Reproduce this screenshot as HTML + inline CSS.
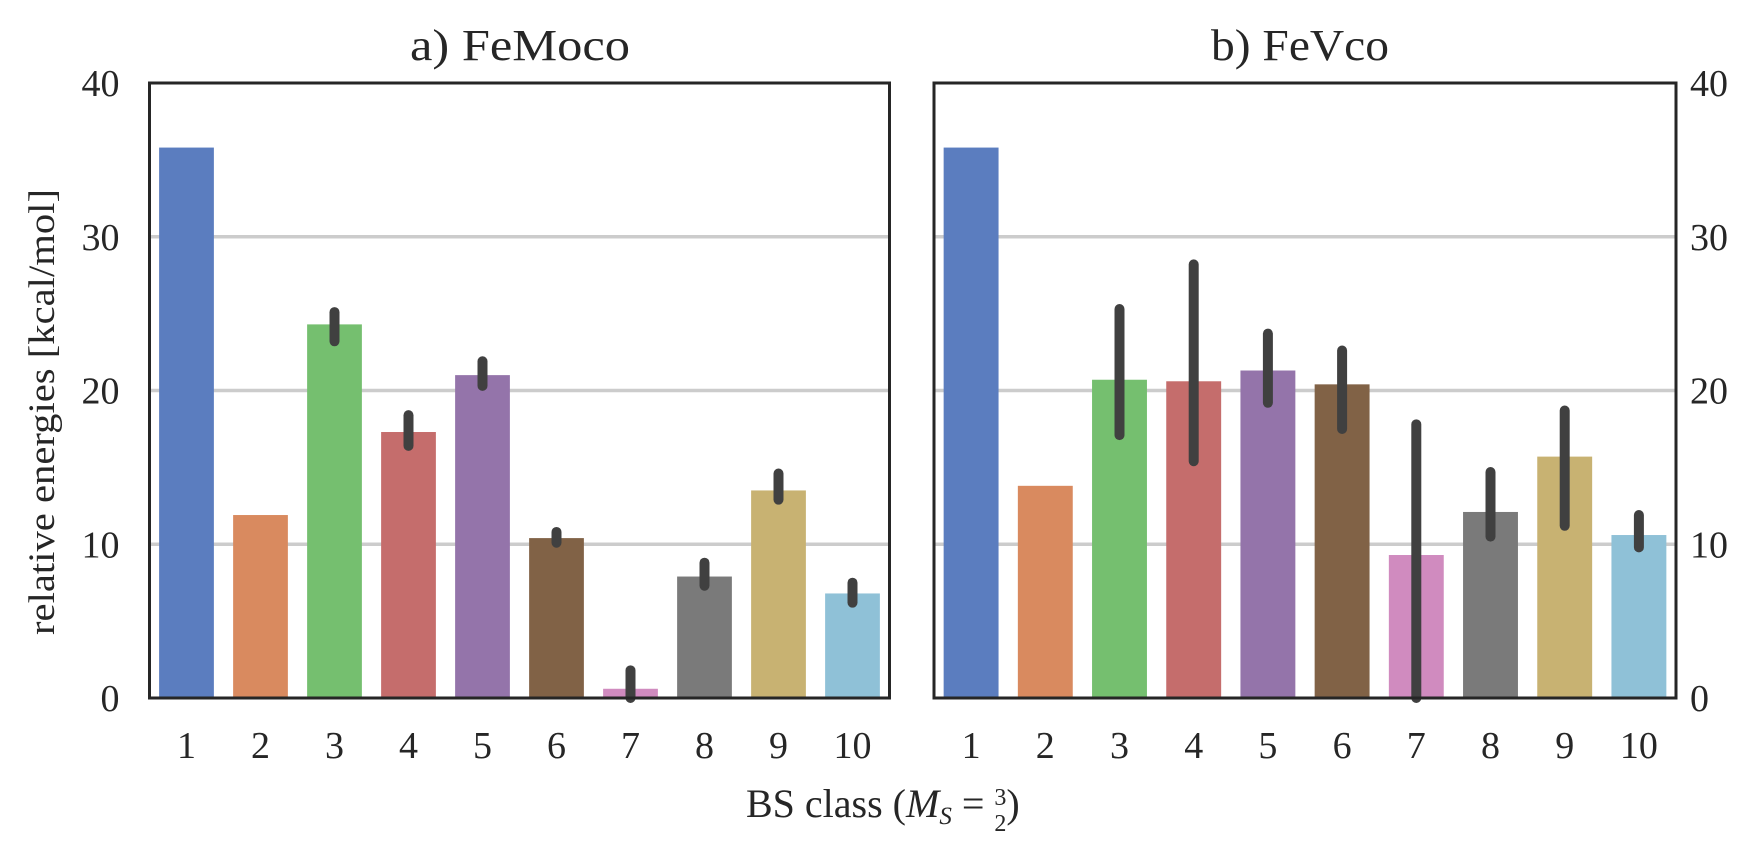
<!DOCTYPE html>
<html><head><meta charset="utf-8">
<style>
html,body{margin:0;padding:0;background:#fff;}
svg text{font-family:"Liberation Serif","DejaVu Serif",serif;fill:#262626;}
</style></head>
<body>
<svg id="chart" width="1748" height="852" viewBox="0 0 1748 852" xmlns="http://www.w3.org/2000/svg">
<text x="410" y="60" font-size="44" textLength="220" lengthAdjust="spacingAndGlyphs">a) FeMoco</text>
<text x="1211" y="60" font-size="44" textLength="178" lengthAdjust="spacingAndGlyphs">b) FeVco</text>
<text transform="translate(54,412) rotate(-90)" font-size="37" text-anchor="middle" textLength="446" lengthAdjust="spacingAndGlyphs">relative energies [kcal/mol]</text>
<text x="746" y="817" font-size="40">BS class (<tspan font-style="italic">M</tspan><tspan font-style="italic" font-size="25" dy="7">S</tspan><tspan dy="-7"> = </tspan><tspan font-size="24" dy="-12">3</tspan><tspan font-size="24" dx="-12" dy="26">2</tspan><tspan dy="-14">)</tspan></text>
<g id="panels"></g>
</svg>
<script>
const categories = ["1","2","3","4","5","6","7","8","9","10"];
const yTicks = [0,10,20,30,40];
const femocoValues = [35.8,11.9,24.3,17.3,21.0,10.4,0.6,7.9,13.5,6.8];
const femocoLow = [35.8,11.9,23.2,16.4,20.3,10.1,0,7.3,12.9,6.2];
const femocoHigh = [35.8,11.9,25.1,18.4,21.9,10.8,1.8,8.8,14.6,7.5];
const fevcoValues = [35.8,13.8,20.7,20.6,21.3,20.4,9.3,12.1,15.7,10.6];
const fevcoLow = [35.8,13.8,17.1,15.4,19.2,17.5,0,10.5,11.2,9.8];
const fevcoHigh = [35.8,13.8,25.3,28.2,23.7,22.6,17.8,14.7,18.7,11.9];
const colors = ["#5b7dbf","#d98a5f","#75bf6f","#c56d6c","#9474aa","#816246","#d08bbf","#7a7a7a","#c8b272","#8fc1d7"];

const NS = "http://www.w3.org/2000/svg";
const root = document.getElementById('panels');
function mk(tag, attrs, parent){
  const e = document.createElementNS(NS, tag);
  for (const k in attrs) e.setAttribute(k, attrs[k]);
  parent.appendChild(e);
  return e;
}
const top0 = 83, bot0 = 698, yMax = 40;
function yScale(v){ return bot0 - (v / yMax) * (bot0 - top0); }

function panel(name, x0, x1, vals, lo, hi, tickSide){
  const g = mk('g', {}, root);
  
  
  const n = categories.length, cw = (x1 - x0) / n;
  const xScale = i => x0 + cw * (i + 0.5);
  yTicks.forEach(t => {
    if (t > 0 && t < yMax) {
      const gl = mk('line', {x1: x0, x2: x1, y1: yScale(t), y2: yScale(t), stroke: '#cccccc', 'stroke-width': 3.5}, g);
      
      
    }
    const tx = tickSide === 'left' ? x0 - 30 : x1 + 14;
    const tl = mk('text', {x: tx, y: yScale(t) + 13, 'font-size': 38, 'text-anchor': tickSide === 'left' ? 'end' : 'start'}, g);
    tl.textContent = t;
    
    
  });
  const bw = cw * 0.74;
  vals.forEach((v, i) => {
    const cx = xScale(i);
    const r = mk('rect', {x: cx - bw / 2, y: yScale(v), width: bw, height: yScale(0) - yScale(v), fill: colors[i]}, g);
    
    
    if (hi[i] - lo[i] > 0.05) {
      const e = mk('line', {x1: cx, x2: cx, y1: yScale(hi[i]), y2: yScale(lo[i]), stroke: '#404040', 'stroke-width': 10, 'stroke-linecap': 'round'}, g);
      
      
    }
    const xl = mk('text', {x: cx, y: 758, 'font-size': 38, 'text-anchor': 'middle'}, g);
    xl.textContent = categories[i];
    
    
  });
  const f = mk('rect', {x: x0, y: top0, width: x1 - x0, height: bot0 - top0, fill: 'none', stroke: '#262626', 'stroke-width': 3}, g);
  
  
}
panel('femoco', 149.5, 889.5, femocoValues, femocoLow, femocoHigh, 'left');
panel('fevco', 934, 1676, fevcoValues, fevcoLow, fevcoHigh, 'right');
</script>
</body></html>
